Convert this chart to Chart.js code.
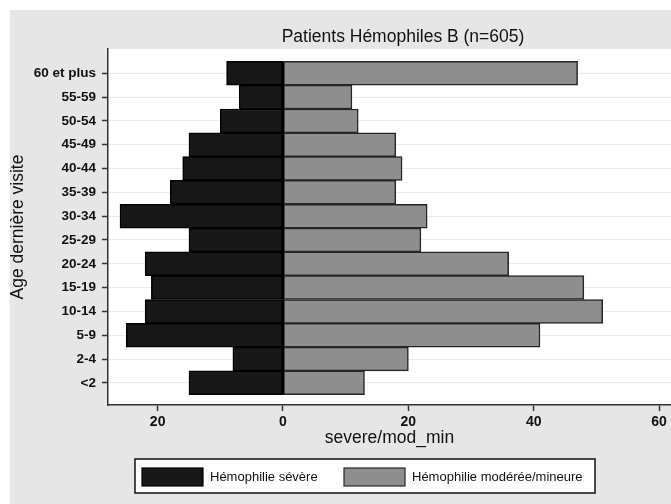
<!DOCTYPE html>
<html><head><meta charset="utf-8">
<script src="https://cdn.jsdelivr.net/npm/chart.js@4"></script>
<style>html,body{margin:0;padding:0;background:#fff}</style>
</head><body>
<canvas id="c" width="671" height="504"></canvas>
<script>
const categories = ['<2','2-4','5-9','10-14','15-19','20-24','25-29','30-34','35-39','40-44','45-49','50-54','55-59','60 et plus'];
const severe = [15,8,25,22,21,22,15,26,18,16,15,10,7,9];
const moderate = [13,20,41,51,48,36,22,23,18,19,18,12,11,47];
const xTicks = [-20,0,20,40,60];
const seriesLabels = ['Hémophilie sévère','Hémophilie modérée/mineure'];
const chartTitle = 'Patients Hémophiles B (n=605)';
const xTitle = 'severe/mod_min';
const yTitle = 'Age dernière visite';

const FONT = '"Liberation Sans", Arial, Helvetica, sans-serif';
const sevFill = '#171717', sevBorder = '#000000';
const modFill = '#8e8e8e', modBorder = '#262626';

const bgPlugin = {
  id: 'bg',
  beforeDraw(chart) {
    const ctx = chart.ctx, a = chart.chartArea;
    ctx.save();
    ctx.fillStyle = '#ffffff';
    ctx.fillRect(0, 0, chart.width, chart.height);
    ctx.fillStyle = '#e6e6e6';
    ctx.fillRect(10, 10, chart.width - 10, chart.height - 10);
    ctx.fillStyle = '#ffffff';
    ctx.fillRect(a.left, a.top, a.right - a.left, a.bottom - a.top);
    ctx.restore();
  }
};

const zeroPlugin = {
  id: 'zero',
  afterDatasetsDraw(chart) {
    const ctx = chart.ctx, xs = chart.scales.x, ys = chart.scales.y;
    const x0 = xs.getPixelForValue(0);
    ctx.save();
    ctx.strokeStyle = '#000';
    ctx.lineWidth = 2;
    ctx.beginPath();
    ctx.moveTo(x0, ys.getPixelForValue(categories.length - 0.5));
    ctx.lineTo(x0, ys.getPixelForValue(-0.5));
    ctx.stroke();
    ctx.restore();
  }
};

const decoPlugin = {
  id: 'deco',
  afterDraw(chart) {
    const ctx = chart.ctx;
    ctx.save();
    ctx.fillStyle = '#111';
    ctx.font = '17.5px ' + FONT;
    ctx.textAlign = 'center';
    ctx.textBaseline = 'middle';
    ctx.fillText(chartTitle, 403, 37);
    ctx.fillStyle = '#ffffff';
    ctx.fillRect(135, 459, 460, 34);
    ctx.strokeStyle = '#111';
    ctx.lineWidth = 1.5;
    ctx.strokeRect(135, 459, 460, 34);
    const items = [
      {x: 142, fill: sevFill, border: sevBorder, label: seriesLabels[0]},
      {x: 344, fill: modFill, border: modBorder, label: seriesLabels[1]}
    ];
    ctx.font = '13px ' + FONT;
    ctx.textAlign = 'left';
    items.forEach(it => {
      ctx.fillStyle = it.fill;
      ctx.fillRect(it.x, 468, 61, 18);
      ctx.strokeStyle = it.border;
      ctx.lineWidth = 1.2;
      ctx.strokeRect(it.x, 468, 61, 18);
      ctx.fillStyle = '#111';
      ctx.fillText(it.label, it.x + 68, 477.5);
    });
    ctx.restore();
  }
};

new Chart(document.getElementById('c'), {
  type: 'bar',
  data: {
    datasets: [
      {
        label: seriesLabels[0],
        data: severe.map((v, i) => ({x: -v, y: i})),
        backgroundColor: sevFill, borderColor: sevBorder, borderWidth: 1.5, borderSkipped: false,
        grouped: false, barPercentage: 1, categoryPercentage: 1
      },
      {
        label: seriesLabels[1],
        data: moderate.map((v, i) => ({x: v, y: i})),
        backgroundColor: modFill, borderColor: modBorder, borderWidth: 1.5, borderSkipped: false,
        grouped: false, barPercentage: 1, categoryPercentage: 1
      }
    ]
  },
  options: {
    indexAxis: 'y',
    responsive: false,
    animation: false,
    devicePixelRatio: 1,
    layout: {padding: {top: 49, left: 0, right: 0, bottom: 50}},
    plugins: {legend: {display: false}, title: {display: false}, tooltip: {enabled: false}},
    scales: {
      x: {
        type: 'linear', min: -27.918, max: 61.9,
        afterBuildTicks: s => { s.ticks = xTicks.map(v => ({value: v})); },
        afterFit: s => { s.height = 49; },
        ticks: {
          callback: v => String(Math.abs(v)),
          font: {family: FONT, size: 14, weight: 'bold'}, color: '#111', padding: 3, maxRotation: 0
        },
        grid: {drawOnChartArea: false, drawTicks: true, tickLength: 6, tickColor: '#333', tickWidth: 1.5},
        border: {display: true, color: '#333', width: 1.5},
        title: {display: true, text: xTitle, font: {family: FONT, size: 17.5}, color: '#111', padding: {top: 0, bottom: 5.5}}
      },
      y: {
        type: 'linear', min: -0.93, max: 14.02, offset: false,
        afterBuildTicks: s => { s.ticks = categories.map((c, i) => ({value: i})); },
        afterFit: s => { s.width = 108; },
        ticks: {
          callback: v => categories[v],
          font: {family: FONT, size: 13.5, weight: 'bold'}, color: '#111', padding: 6
        },
        grid: {display: true, offset: false, color: '#ebebeb', lineWidth: 1, drawTicks: true, tickLength: 6, tickColor: '#333', tickWidth: 1.5},
        border: {display: true, color: '#333', width: 1.5},
        title: {display: true, text: yTitle, font: {family: FONT, size: 17.5}, color: '#111', padding: {top: 8, bottom: 0}}
      }
    }
  },
  plugins: [bgPlugin, zeroPlugin, decoPlugin]
});
</script>
</body></html>
